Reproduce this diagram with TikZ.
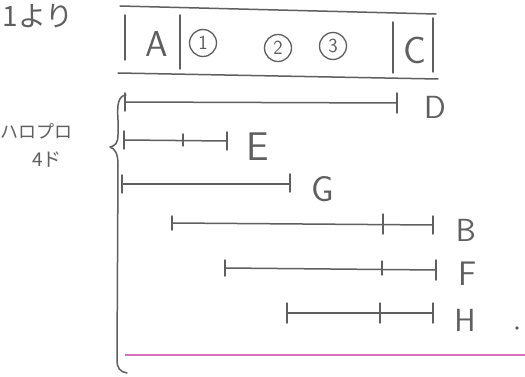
\documentclass[tikz,border=0pt]{standalone}
\usepackage{fontspec}
\newfontfamily\jp{Noto Sans CJK JP}
\definecolor{ink}{RGB}{95,95,95}
\definecolor{pinkline}{RGB}{215,110,190}
\begin{document}
\begin{tikzpicture}[x=1pt,y=-1pt,
  pen/.style={draw=ink, line width=1.5pt, line cap=round, line join=round},
  lbl/.style={text=ink, inner sep=0pt, font=\sffamily\fontsize{32}{32}\selectfont},
  jpl/.style={text=ink, inner sep=0pt},
  num/.style={text=ink, inner sep=0pt, font=\sffamily\fontsize{20}{20}\selectfont},
  ring/.style={draw=ink, line width=1.3pt}]
\useasboundingbox (0,0) rectangle (525,377);
\fill[white] (0,0) rectangle (525,377);

% heading
\node[jpl, font=\jp\fontsize{28}{28}\selectfont] (yori) at (38,16) {1より};

% box
\coordinate (tl) at (120,6);  \coordinate (tr) at (436,14);
\coordinate (bl) at (118,73); \coordinate (br) at (438,79);
\draw[pen] (tl) -- (tr);
\draw[pen] (bl) -- (br);
\coordinate (v1a) at (125,15); \coordinate (v1b) at (125,60);
\coordinate (v2a) at (180,15); \coordinate (v2b) at (180,69);
\coordinate (v3a) at (393,22); \coordinate (v3b) at (393,73);
\coordinate (v4a) at (433,18); \coordinate (v4b) at (433,72);
\draw[pen] (v1a) -- (v1b);
\draw[pen] (v2a) -- (v2b);
\draw[pen] (v3a) -- (v3b);
\draw[pen] (v4a) -- (v4b);
\node[lbl, font=\sffamily\fontsize{36}{36}\selectfont] (A) at (157,44) {A};
\node[num] (n1) at (203,43) {1};
\node[num] (n2) at (278,48) {2};
\node[num] (n3) at (333,46) {3};
\draw[ring] (n1.center) circle (13.5pt);
\draw[ring] (n2.center) circle (13.5pt);
\draw[ring] (n3.center) circle (13.5pt);
\node[lbl, font=\sffamily\fontsize{38}{38}\selectfont] (C) at (415,50) {C};

% left note
\node[jpl, font=\jp\fontsize{18}{18}\selectfont] (harop) at (37,131) {ハロプロ};
\node[jpl, font=\jp\fontsize{19}{19}\selectfont] (do) at (47,160) {4ド};

% brace
\draw[pen] (126,95) .. controls (118,96) and (117,105) .. (118,120) -- (118,135)
  .. controls (118,143) and (115,146) .. (110,147)
  .. controls (115,149) and (118,153) .. (118,165) -- (117,360)
  .. controls (117,368) and (120,372) .. (127,373);

% segments
\coordinate (d1) at (125,102); \coordinate (d2) at (397,103);
\draw[pen] (d1) -- (d2);
\draw[pen] (d1) ++(0,-9) -- ++(0,18);
\draw[pen] (d2) ++(0,-10) -- ++(0,20);
\node[lbl] (D) at (435,107) {D};

\coordinate (e1) at (124,140); \coordinate (em) at (183,140); \coordinate (e2) at (227,141);
\draw[pen] (e1) -- (e2);
\draw[pen] (e1) ++(0,-9) -- ++(0,18);
\draw[pen] (em) ++(0,-6) -- ++(0,12);
\draw[pen] (e2) ++(0,-9) -- ++(0,18);
\node[lbl, font=\sffamily\fontsize{40}{40}\selectfont] (E) at (258,147) {E};

\coordinate (g1) at (122,184); \coordinate (g2) at (290,184);
\draw[pen] (g1) -- (g2);
\draw[pen] (g1) ++(0,-9) -- ++(0,18);
\draw[pen] (g2) ++(0,-10) -- ++(0,18);
\node[lbl, font=\sffamily\fontsize{36}{36}\selectfont] (G) at (323,189) {G};

\coordinate (b1) at (172,223); \coordinate (bm) at (383,224); \coordinate (b2) at (433,225);
\draw[pen] (b1) -- (b2);
\draw[pen] (b1) ++(0,-7) -- ++(0,14);
\draw[pen] (bm) ++(0,-10) -- ++(0,20);
\draw[pen] (b2) ++(0,-9) -- ++(0,18);
\node[lbl] (B) at (466,230) {B};

\coordinate (f1) at (225,268); \coordinate (fm) at (382,269); \coordinate (f2) at (436,270);
\draw[pen] (f1) -- (f2);
\draw[pen] (f1) ++(0,-8) -- ++(0,16);
\draw[pen] (fm) ++(0,-8) -- ++(0,14);
\draw[pen] (f2) ++(0,-10) -- ++(0,20);
\node[lbl, font=\sffamily\fontsize{34}{34}\selectfont] (F) at (468,274) {F};

\coordinate (h1) at (287,313); \coordinate (hm) at (380,313); \coordinate (h2) at (433,313);
\draw[pen] (h1) -- (h2);
\draw[pen] (h1) ++(0,-10) -- ++(0,20);
\draw[pen] (hm) ++(0,-10) -- ++(0,20);
\draw[pen] (h2) ++(0,-10) -- ++(0,20);
\node[lbl] (H) at (465,320) {H};

\fill[ink] (517,328) circle (1.8pt);

% ruled line
\coordinate (p1) at (125,355); \coordinate (p2) at (525,355);
\draw[pinkline, line width=1.2pt] (p1) -- (p2);
\end{tikzpicture}
\end{document}
